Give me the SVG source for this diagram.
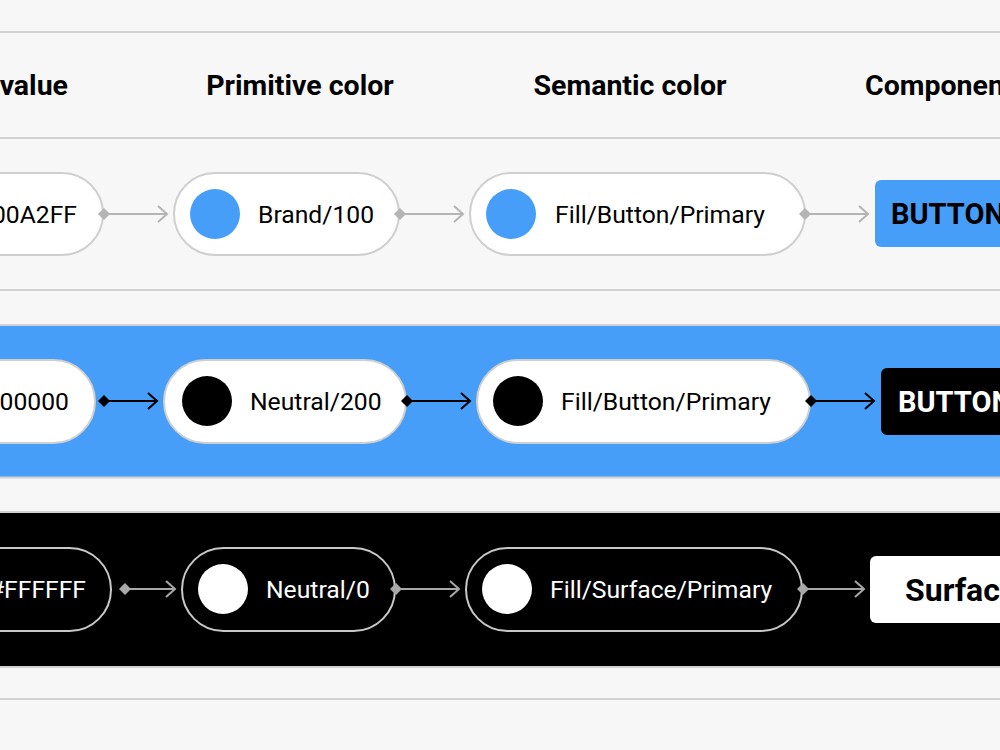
<svg xmlns="http://www.w3.org/2000/svg" width="1000" height="750" viewBox="0 0 1000 750">
  <style>
    .hdr { font-family: Roboto, "Liberation Sans", sans-serif; font-weight: 700; font-size: 28.5px; fill: #000; }
    .lbl { font-family: Roboto, "Liberation Sans", sans-serif; font-size: 24.7px; }
    .btn { font-family: Roboto, "Liberation Sans", sans-serif; font-weight: 700; font-size: 29px; }
    .rule { stroke: #d2d2d2; stroke-width: 2; }
    .pillL { fill: #fff; stroke: #cfcfcf; stroke-width: 2; }
    .pillD { fill: #000; stroke: #c8c8c8; stroke-width: 2; }
    .c1 { stroke: #b4b4b4; stroke-width: 2; fill: none; }
    .c2 { stroke: #000; stroke-width: 2; fill: none; }
    .c3 { stroke: #a8a8a8; stroke-width: 2; fill: none; }
  </style>
  <defs>
    <marker id="dg" markerUnits="userSpaceOnUse" markerWidth="12" markerHeight="12" refX="6" refY="6" orient="auto">
      <path d="M0,6 L6,0 L12,6 L6,12 Z" fill="#b4b4b4"/>
    </marker>
    <marker id="ag" markerUnits="userSpaceOnUse" markerWidth="14" markerHeight="18" refX="11" refY="9" orient="auto">
      <path d="M2,1 L11,9 L2,17" fill="none" stroke="#b4b4b4" stroke-width="2"/>
    </marker>
    <marker id="dk" markerUnits="userSpaceOnUse" markerWidth="12" markerHeight="12" refX="6" refY="6" orient="auto">
      <path d="M0,6 L6,0 L12,6 L6,12 Z" fill="#000"/>
    </marker>
    <marker id="ak" markerUnits="userSpaceOnUse" markerWidth="14" markerHeight="18" refX="11" refY="9" orient="auto">
      <path d="M2,1 L11,9 L2,17" fill="none" stroke="#000" stroke-width="2"/>
    </marker>
    <marker id="dw" markerUnits="userSpaceOnUse" markerWidth="12" markerHeight="12" refX="6" refY="6" orient="auto">
      <path d="M0,6 L6,0 L12,6 L6,12 Z" fill="#a8a8a8"/>
    </marker>
    <marker id="aw" markerUnits="userSpaceOnUse" markerWidth="14" markerHeight="18" refX="11" refY="9" orient="auto">
      <path d="M2,1 L11,9 L2,17" fill="none" stroke="#a8a8a8" stroke-width="2"/>
    </marker>
  </defs>

  <rect x="0" y="0" width="1000" height="750" fill="#f7f7f7"/>

  <g id="bands">
    <rect x="0" y="326" width="1000" height="151" fill="#479ef8"/>
    <rect x="0" y="513" width="1000" height="153" fill="#000"/>
    <line class="rule" x1="0" y1="32" x2="1000" y2="32"/>
    <line class="rule" x1="0" y1="138" x2="1000" y2="138"/>
    <line class="rule" x1="0" y1="290" x2="1000" y2="290"/>
    <line class="rule" x1="0" y1="325" x2="1000" y2="325"/>
    <line class="rule" x1="0" y1="477.5" x2="1000" y2="477.5"/>
    <line class="rule" x1="0" y1="512" x2="1000" y2="512"/>
    <line class="rule" x1="0" y1="667" x2="1000" y2="667"/>
    <line class="rule" x1="0" y1="699" x2="1000" y2="699"/>
  </g>

  <g id="header">
    <text class="hdr" x="68" y="95" text-anchor="end">value</text>
    <text class="hdr" x="300" y="95" text-anchor="middle">Primitive color</text>
    <text class="hdr" x="630" y="95" text-anchor="middle">Semantic color</text>
    <text class="hdr" x="865" y="95">Component</text>
  </g>

  <!-- Row 1 -->
  <g id="r1-value">
    <rect class="pillL" x="-120" y="173" width="223" height="82" rx="41"/>
    <text class="lbl" x="77" y="223" text-anchor="end" fill="#000">#00A2FF</text>
  </g>
  <g id="r1-primitive">
    <rect class="pillL" x="174" y="173" width="225" height="82" rx="41"/>
    <circle cx="215" cy="214" r="25" fill="#479ef8"/>
    <text class="lbl" x="258" y="223" fill="#000">Brand/100</text>
  </g>
  <g id="r1-semantic">
    <rect class="pillL" x="470" y="173" width="335" height="82" rx="41"/>
    <circle cx="511" cy="214" r="25" fill="#479ef8"/>
    <text class="lbl" x="555" y="223" fill="#000">Fill/Button/Primary</text>
  </g>
  <g id="r1-component">
    <rect x="875" y="180" width="200" height="67" rx="6" fill="#479ef8"/>
    <text class="btn" x="891" y="224" fill="#000">BUTTON</text>
  </g>

  <!-- Row 2 -->
  <g id="r2-value">
    <rect class="pillL" x="-130" y="360" width="225" height="83" rx="41.5"/>
    <text class="lbl" x="69" y="410" text-anchor="end" fill="#000">#000000</text>
  </g>
  <g id="r2-primitive">
    <rect class="pillL" x="164" y="360" width="242" height="83" rx="41.5"/>
    <circle cx="207" cy="401" r="25" fill="#000"/>
    <text class="lbl" x="250" y="410" fill="#000">Neutral/200</text>
  </g>
  <g id="r2-semantic">
    <rect class="pillL" x="477" y="360" width="333" height="83" rx="41.5"/>
    <circle cx="518" cy="401" r="25" fill="#000"/>
    <text class="lbl" x="561" y="410" fill="#000">Fill/Button/Primary</text>
  </g>
  <g id="r2-component">
    <rect x="881" y="368" width="200" height="67" rx="6" fill="#000"/>
    <text class="btn" x="898" y="412" fill="#fff">BUTTON</text>
  </g>

  <!-- Row 3 -->
  <g id="r3-value">
    <rect class="pillD" x="-110" y="548" width="221" height="83" rx="41.5"/>
    <text class="lbl" x="86" y="598" text-anchor="end" fill="#fff">#FFFFFF</text>
  </g>
  <g id="r3-primitive">
    <rect class="pillD" x="182" y="548" width="213" height="83" rx="41.5"/>
    <circle cx="223" cy="589" r="25" fill="#fff"/>
    <text class="lbl" x="266" y="598" fill="#fff">Neutral/0</text>
  </g>
  <g id="r3-semantic">
    <rect class="pillD" x="466" y="548" width="336" height="83" rx="41.5"/>
    <circle cx="507" cy="589" r="25" fill="#fff"/>
    <text class="lbl" x="550" y="598" fill="#fff">Fill/Surface/Primary</text>
  </g>
  <g id="r3-component">
    <rect x="870" y="556" width="200" height="67" rx="6" fill="#fff"/>
    <text class="btn" x="905" y="601" fill="#000" style="font-size:32px">Surface</text>
  </g>

  <g id="connectors">
    <line class="c1" x1="104" y1="214" x2="167" y2="214" marker-start="url(#dg)" marker-end="url(#ag)"/>
    <line class="c1" x1="400" y1="214" x2="463" y2="214" marker-start="url(#dg)" marker-end="url(#ag)"/>
    <line class="c1" x1="805" y1="214" x2="868" y2="214" marker-start="url(#dg)" marker-end="url(#ag)"/>

    <line class="c2" x1="104" y1="401" x2="157" y2="401" marker-start="url(#dk)" marker-end="url(#ak)"/>
    <line class="c2" x1="407" y1="401" x2="470" y2="401" marker-start="url(#dk)" marker-end="url(#ak)"/>
    <line class="c2" x1="811" y1="401" x2="874" y2="401" marker-start="url(#dk)" marker-end="url(#ak)"/>

    <line class="c3" x1="125" y1="589" x2="175" y2="589" marker-start="url(#dw)" marker-end="url(#aw)"/>
    <line class="c3" x1="396" y1="589" x2="459" y2="589" marker-start="url(#dw)" marker-end="url(#aw)"/>
    <line class="c3" x1="803" y1="589" x2="864" y2="589" marker-start="url(#dw)" marker-end="url(#aw)"/>
  </g>
</svg>
